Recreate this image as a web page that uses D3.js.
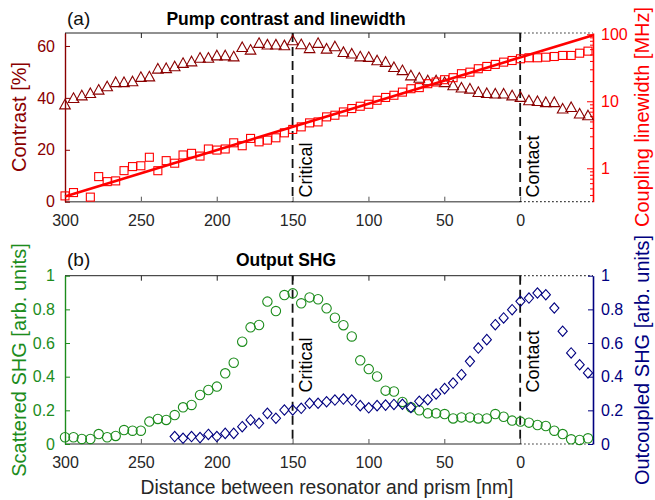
<!DOCTYPE html>
<html>
<head>
<meta charset="utf-8">
<script src="https://cdn.jsdelivr.net/npm/d3@7"></script>
<style>
  body { margin: 0; background: #fff; }
  svg text { font-family: "Liberation Sans", Arial, Helvetica, sans-serif; }
</style>
</head>
<body>
<script>
// distance between resonator and prism [nm], one entry per measurement
var distance = [300.0, 294.4, 288.9, 283.3, 277.8, 272.2, 266.6, 261.1, 255.5, 250.0,
  244.4, 238.8, 233.3, 227.7, 222.2, 216.6, 211.0, 205.5, 199.9, 194.4,
  188.8, 183.2, 177.7, 172.1, 166.6, 161.0, 155.4, 149.9, 144.3, 138.8,
  133.2, 127.6, 122.1, 116.5, 111.0, 105.4, 99.8, 94.3, 88.7, 83.2,
  77.6, 72.0, 66.5, 60.9, 55.4, 49.8, 44.2, 38.7, 33.1, 27.6,
  22.0, 16.4, 10.9, 5.3, -0.2, -5.8, -11.4, -16.9, -22.5, -28.0,
  -33.6, -39.2, -44.7];

// (a) pump contrast [%]
var contrast = [37.6, 40.1, 41.1, 42.0, 43.3, 44.6, 46.2, 46.2, 46.5, 48.2,
  48.4, 51.4, 51.6, 52.3, 53.6, 54.2, 55.6, 55.6, 56.5, 56.5,
  56.1, 59.7, 58.7, 61.3, 60.7, 60.7, 60.4, 62.3, 60.8, 59.3,
  61.3, 59.1, 60.0, 57.8, 57.2, 56.1, 55.9, 54.6, 54.0, 52.0,
  50.8, 48.8, 47.9, 46.9, 46.9, 46.2, 45.0, 44.1, 43.7, 42.4,
  42.0, 41.8, 41.8, 41.1, 40.5, 39.2, 38.9, 38.5, 38.5, 36.0,
  36.6, 34.1, 33.4];

// (a) coupling linewidth [MHz]
var linewidth = [0.387, 0.434, null, 0.371, 0.751, 0.632, 0.648, 0.922, 1.06, 1.09,
  1.46, 0.92, 1.30, 1.19, 1.58, 1.67, 1.52, 1.94, 1.87, 1.94,
  2.40, 2.17, 2.79, 2.48, 2.63, 2.85, 3.38, 3.80, 4.15, 4.76,
  4.92, 5.85, 6.19, 6.93, 7.79, 8.43, 9.02, 10.35, 11.4, 12.3,
  13.7, 15.4, 16.0, 18.3, 19.4, 21.0, 22.5, 25.8, 27.2, 30.6,
  33.1, 35.5, 38.4, 40.6, 43.1, 44.6, 44.6, 45.5, 46.6, 48.3,
  48.3, 52.2, 56.0];

// exponential fit of the linewidth (straight on the log axis)
var fitDistance = [300, -48];
var fitLinewidth = [0.38, 97];

// (b) scattered SHG [arb. units]
var scatteredSHG = [0.040, 0.040, 0.030, 0.030, 0.059, 0.040, 0.048, 0.083, 0.079, 0.079,
  0.133, 0.149, 0.143, 0.172, 0.218, 0.232, 0.291, 0.321, 0.341, 0.420,
  0.483, 0.608, 0.693, 0.707, 0.846, 0.790, 0.885, 0.895, 0.836, 0.871,
  0.860, 0.806, 0.750, 0.706, 0.639, 0.497, 0.445, 0.401, 0.317, 0.312,
  0.250, 0.218, 0.200, 0.182, 0.182, 0.178, 0.152, 0.158, 0.158, 0.152,
  0.152, 0.178, 0.162, 0.139, 0.133, 0.127, 0.113, 0.107, 0.079, 0.059,
  0.028, 0.024, 0.034];

// (b) outcoupled SHG [arb. units]
var outcoupledSHG = [null, null, null, null, null, null, null, null, null, null,
  null, null, null, 0.044, 0.034, 0.044, 0.038, 0.057, 0.044, 0.063,
  0.063, 0.103, 0.143, 0.123, 0.182, 0.153, 0.202, 0.202, 0.212, 0.242,
  0.242, 0.251, 0.261, 0.267, 0.261, 0.228, 0.215, 0.228, 0.231, 0.235,
  0.236, 0.217, 0.254, 0.263, 0.297, 0.329, 0.362, 0.412, 0.491, 0.570,
  0.620, 0.709, 0.749, 0.798, 0.848, 0.867, 0.897, 0.887, 0.808, 0.670,
  0.541, 0.471, 0.422];

var xTicks = [300, 250, 200, 150, 100, 50, 0];
var contrastTicks = [0, 20, 40, 60];
var linewidthTicks = [1, 10, 100];
var linewidthMinorTicks = [0.4, 0.5, 0.6, 0.7, 0.8, 0.9, 2, 3, 4, 5, 6, 7, 8, 9,
  20, 30, 40, 50, 60, 70, 80, 90];
var shgTicks = [0, 0.2, 0.4, 0.6, 0.8, 1];

var eventNames = ["Critical", "Contact"];
var eventDistance = [150, 0];

window.onload = drawChart;

function drawChart() {

  var width = 655,
    height = 500;

  var darkRed = "#8a0000",
    red = "#ff0000",
    green = "#1c8c1c",
    navy = "#000080",
    grey = "#262626";

  var svg = d3.select("body")
    .append("svg")
    .attr("width", width)
    .attr("height", height);

  var x = d3.scaleLinear()
    .domain([300, -48])
    .range([65, 593]);

  // panel frames
  var aTop = 33, aBottom = 201.7;
  var bTop = 275.7, bBottom = 444;

  var yContrast = d3.scaleLinear().domain([0, 65]).range([aBottom, aTop]);
  var yLinewidth = d3.scaleLog().domain([0.317, 104.5]).range([aBottom, aTop]);
  var yShg = d3.scaleLinear().domain([0, 1]).range([bBottom, bTop]);

  var fmt = d3.format("~g");

  function styleAxis(g, color, size) {
    g.selectAll("line").attr("stroke", color);
    g.selectAll("path").attr("stroke", color);
    g.selectAll("text")
      .attr("fill", color)
      .style("font-size", size + "px");
  }

  function drawFrame(top, bottom, textBase) {
    // bottom axis with inward ticks
    var bx = svg.append("g")
      .attr("transform", "translate(0," + bottom + ")")
      .call(d3.axisBottom(x).tickValues(xTicks).tickFormat(fmt)
        .tickSizeInner(-5).tickSizeOuter(0).tickPadding(13));
    bx.select(".domain").remove();
    styleAxis(bx, grey, 16);
    bx.selectAll("line").attr("stroke", "#555");

    // top ticks, no labels
    var tx = svg.append("g")
      .attr("transform", "translate(0," + top + ")")
      .call(d3.axisTop(x).tickValues(xTicks).tickFormat("")
        .tickSizeInner(-5).tickSizeOuter(0));
    tx.select(".domain").remove();
    tx.selectAll("line").attr("stroke", "#222");

    // borders: solid up to contact, dotted beyond
    svg.append("line")
      .attr("x1", x(300)).attr("x2", x(0))
      .attr("y1", bottom).attr("y2", bottom)
      .attr("stroke", "#6e6e6e").attr("stroke-width", 1.6);
    svg.append("line")
      .attr("x1", x(300)).attr("x2", x(0))
      .attr("y1", top).attr("y2", top)
      .attr("stroke", "#222").attr("stroke-width", 1);
    [top, bottom].forEach(function(yy) {
      svg.append("line")
        .attr("x1", x(0)).attr("x2", x(-48))
        .attr("y1", yy).attr("y2", yy)
        .attr("stroke", "#222").attr("stroke-width", 1.2)
        .attr("stroke-dasharray", "1.5,2.5");
    });

    // critical / contact markers
    eventDistance.forEach(function(d, i) {
      svg.append("line")
        .attr("x1", x(d)).attr("x2", x(d))
        .attr("y1", top).attr("y2", bottom)
        .attr("stroke", "#111").attr("stroke-width", 1.8)
        .attr("stroke-dasharray", "9,5");
      svg.append("text")
        .attr("transform", "translate(" + (x(d) + 19) + "," + textBase + ") rotate(-90)")
        .style("font-size", "18px")
        .attr("fill", "#000")
        .text(eventNames[i]);
    });
  }

  function rotatedLabel(text, cx, cy, color) {
    svg.append("text")
      .attr("transform", "translate(" + cx + "," + cy + ") rotate(-90)")
      .attr("text-anchor", "middle")
      .style("font-size", "20px")
      .attr("fill", color)
      .text(text);
  }

  // ---------- panel (a) ----------
  drawFrame(aTop, aBottom, 197.5);

  var ay = svg.append("g")
    .attr("transform", "translate(" + x(300) + ",0)")
    .call(d3.axisLeft(yContrast).tickValues(contrastTicks).tickFormat(fmt)
      .tickSizeInner(-5).tickSizeOuter(0).tickPadding(10));
  styleAxis(ay, darkRed, 16);
  ay.select(".domain").attr("stroke-width", 1.4);

  var ryMinor = svg.append("g")
    .attr("transform", "translate(" + x(-48) + ",0)")
    .call(d3.axisRight(yLinewidth).tickValues(linewidthMinorTicks).tickFormat("")
      .tickSizeInner(-3).tickSizeOuter(0));
  ryMinor.select(".domain").remove();
  ryMinor.selectAll("line").attr("stroke", red);

  var ry = svg.append("g")
    .attr("transform", "translate(" + x(-48) + ",0)")
    .call(d3.axisRight(yLinewidth).tickValues(linewidthTicks).tickFormat(fmt)
      .tickSizeInner(-6).tickSizeOuter(0).tickPadding(8));
  styleAxis(ry, red, 16);
  ry.select(".domain").attr("stroke-width", 1.6);

  svg.selectAll(".tri")
    .data(distance.map(function(d, i) { return [d, contrast[i]]; }))
    .enter()
    .append("path")
    .attr("class", "tri")
    .attr("transform", function(d) {
      return "translate(" + x(d[0]) + "," + yContrast(d[1]) + ")";
    })
    .attr("d", "M0,-4.8L5.3,4.8L-5.3,4.8Z")
    .attr("fill", "none")
    .attr("stroke", darkRed)
    .attr("stroke-width", 1.1);

  svg.selectAll(".sq")
    .data(distance.map(function(d, i) { return [d, linewidth[i]]; })
      .filter(function(d) { return d[1] != null; }))
    .enter()
    .append("rect")
    .attr("class", "sq")
    .attr("x", function(d) { return x(d[0]) - 4; })
    .attr("y", function(d) { return yLinewidth(d[1]) - 4; })
    .attr("width", 8)
    .attr("height", 8)
    .attr("fill", "none")
    .attr("stroke", red)
    .attr("stroke-width", 1.1);

  var fitLine = d3.line()
    .x(function(d) { return x(d[0]); })
    .y(function(d) { return yLinewidth(d[1]); });

  svg.append("path")
    .datum(fitDistance.map(function(d, i) { return [d, fitLinewidth[i]]; }))
    .attr("d", fitLine)
    .attr("fill", "none")
    .attr("stroke", red)
    .attr("stroke-width", 2.6);

  svg.append("text")
    .attr("x", 67).attr("y", 25)
    .style("font-size", "19px")
    .attr("fill", "#111")
    .text("(a)");
  svg.append("text")
    .attr("x", 286).attr("y", 25)
    .attr("text-anchor", "middle")
    .style("font-size", "17.5px")
    .style("font-weight", "bold")
    .attr("fill", "#000")
    .text("Pump contrast and linewidth");

  rotatedLabel("Contrast [%]", 26, 117, darkRed);
  rotatedLabel("Coupling linewidth [MHz]", 649, 117, red);

  // ---------- panel (b) ----------
  drawFrame(bTop, bBottom, 392.5);

  var by = svg.append("g")
    .attr("transform", "translate(" + x(300) + ",0)")
    .call(d3.axisLeft(yShg).tickValues(shgTicks).tickFormat(fmt)
      .tickSizeInner(-5).tickSizeOuter(0).tickPadding(10));
  styleAxis(by, green, 16);
  by.select(".domain").attr("stroke-width", 1.4);

  var bry = svg.append("g")
    .attr("transform", "translate(" + x(-48) + ",0)")
    .call(d3.axisRight(yShg).tickValues(shgTicks).tickFormat(fmt)
      .tickSizeInner(-5).tickSizeOuter(0).tickPadding(8));
  styleAxis(bry, navy, 16);
  bry.select(".domain").attr("stroke-width", 1.6);

  svg.selectAll(".circ")
    .data(distance.map(function(d, i) { return [d, scatteredSHG[i]]; }))
    .enter()
    .append("circle")
    .attr("class", "circ")
    .attr("cx", function(d) { return x(d[0]); })
    .attr("cy", function(d) { return yShg(d[1]); })
    .attr("r", 4.7)
    .attr("fill", "none")
    .attr("stroke", green)
    .attr("stroke-width", 1.1);

  svg.selectAll(".dia")
    .data(distance.map(function(d, i) { return [d, outcoupledSHG[i]]; })
      .filter(function(d) { return d[1] != null; }))
    .enter()
    .append("path")
    .attr("class", "dia")
    .attr("transform", function(d) {
      return "translate(" + x(d[0]) + "," + yShg(d[1]) + ")";
    })
    .attr("d", "M0,-5.2L4.6,0L0,5.2L-4.6,0Z")
    .attr("fill", "none")
    .attr("stroke", navy)
    .attr("stroke-width", 1.1);

  svg.append("text")
    .attr("x", 67).attr("y", 266)
    .style("font-size", "19px")
    .attr("fill", "#111")
    .text("(b)");
  svg.append("text")
    .attr("x", 286).attr("y", 266)
    .attr("text-anchor", "middle")
    .style("font-size", "17.5px")
    .style("font-weight", "bold")
    .attr("fill", "#000")
    .text("Output SHG");

  rotatedLabel("Scattered SHG [arb. units]", 26, 360, green);
  rotatedLabel("Outcoupled SHG [arb. units]", 649, 360, navy);

  svg.append("text")
    .attr("x", 327).attr("y", 494)
    .attr("text-anchor", "middle")
    .style("font-size", "19.3px")
    .attr("fill", grey)
    .text("Distance between resonator and prism [nm]");
}
</script>
</body>
</html>
